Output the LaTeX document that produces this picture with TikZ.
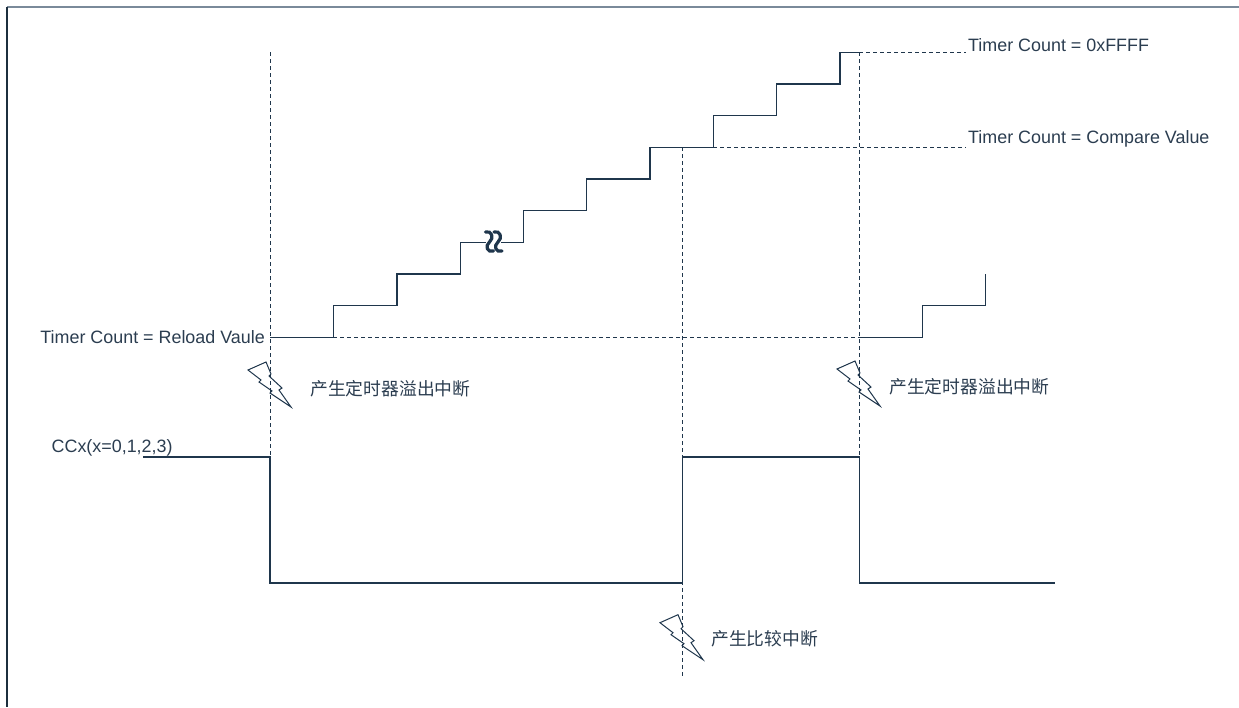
\documentclass[tikz,border=0pt]{standalone}
\usepackage{fontspec}
\setmainfont{Liberation Sans}
\newfontfamily\cjk{Noto Sans CJK SC}
\definecolor{ln}{HTML}{1F364C}
\definecolor{tx}{HTML}{2B3D50}
\definecolor{frametop}{HTML}{7A8A9A}
\definecolor{frameleft}{HTML}{1C2F3E}
\begin{document}
\begin{tikzpicture}[x=1pt,y=-1pt,
  sig/.style={draw=ln,line width=1.3pt},
  guide/.style={draw=ln,line width=1pt,dash pattern=on 4pt off 3pt},
  lbl/.style={text=tx,inner sep=0pt,font=\fontsize{17.9}{20}\selectfont},
  cjklbl/.style={text=tx,inner sep=0pt,font=\cjk\fontsize{17.8}{20}\selectfont},
  boltline/.style={draw=ln,line width=1pt,line join=miter},
  squig/.style={draw=ln,line width=3.2pt,line cap=round},
  boltpic/.pic={\draw[boltline] (0,0) -- (18,-8) -- (23,4) -- (21,6) -- (34,18) -- (31,20) -- (43,37) -- (22,23) -- (24,21) -- (11,12) -- (13,10) -- cycle;}
]
\useasboundingbox (0,0) rectangle (1239,707);
% frame
\draw[frametop,line width=1.5pt] (7,7) -- (1239,7);
\draw[frameleft,line width=1.5pt] (7,7) -- (7,707);

% key coordinates
\coordinate (xa) at (270,52);
\coordinate (xb) at (682.3,147.3);
\coordinate (xc) at (859.3,52.3);

% guide lines
\draw[guide] (xa) -- (270,457);
\draw[guide] (xb) -- (682.3,679);
\draw[guide] (xc) -- (859.3,457);
\draw[guide] (333.3,337.3) -- (859.3,337.3);
\draw[guide] (713.3,147.3) -- (966,147.3);
\draw[guide] (xc) -- (966,52.3);

% staircase counter
\draw[sig] (270,337.3) -| (333.3,305.7) -| (397,274) -| (460.3,242.3) -- (486,242.3);
\draw[sig] (501,242.3) -| (523.3,210.7) -| (586.7,179) -| (650,147.3) -| (713.3,115.7) -| (776.7,84) -| (840,52.3) -- (xc);
\draw[sig] (859.3,337.3) -| (922.3,305.3) -| (985.7,274);

% squiggle break
\draw[squig] (485.5,232) .. controls (491.5,230) and (494.5,238) .. (489.5,242) .. controls (484.5,246) and (487.5,253) .. (493.5,251);
\draw[squig] (494,232) .. controls (500,230) and (503,238) .. (498,242) .. controls (493,246) and (496,253) .. (502,251);

% CCx signal
\draw[sig] (143.3,457) -- (270,457) -- (270,583) -- (682.3,583) -- (682.3,457) -- (859.3,457) -- (859.3,583) -- (1055,583);

% bolts
\pic at (248,370) {boltpic};
\pic at (660,622.7) {boltpic};
\pic at (837,369) {boltpic};

% labels
\node[lbl,anchor=base west] (tffff) at (968,51.5) {Timer Count = 0xFFFF};
\node[lbl,anchor=base west] (tcmp) at (968,143.5) {Timer Count = Compare Value};
\node[lbl,anchor=base east] (trel) at (265,343) {Timer Count = Reload Vaule};
\node[lbl,anchor=base west] (tccx) at (51.5,452) {CCx(x=0,1,2,3)};
\node[cjklbl,anchor=west] (ov1) at (310,388.3) {产生定时器溢出中断};
\node[cjklbl,anchor=west] (ov2) at (889,386.7) {产生定时器溢出中断};
\node[cjklbl,anchor=west] (cmpint) at (711,638.3) {产生比较中断};
\end{tikzpicture}
\end{document}
